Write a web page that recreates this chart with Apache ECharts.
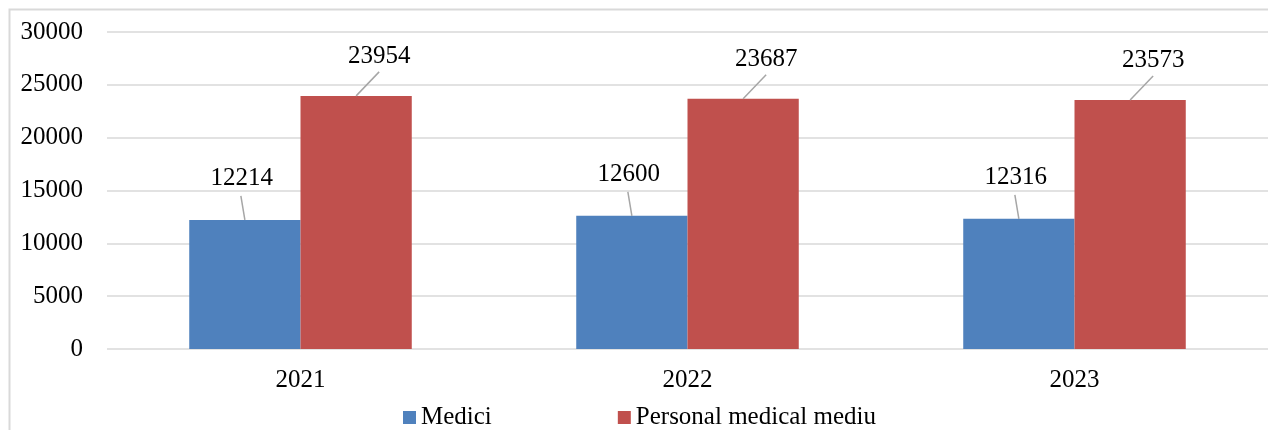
<!DOCTYPE html>
<html>
<head>
<meta charset="utf-8">
<script src="https://cdn.jsdelivr.net/npm/echarts@6/dist/echarts.min.js"></script>
<style>
  html, body { margin: 0; padding: 0; background: #fff; }
  #chart { width: 1268px; height: 430px; }
</style>
</head>
<body>
<div id="chart"></div>
<script>
// date
const years = ['2021', '2022', '2023'];
const medici = [12214, 12600, 12316];
const personalMediu = [23954, 23687, 23573];
const seriesNames = ['Medici', 'Personal medical mediu'];

const font = 'Liberation Serif, Times New Roman, serif';
const catGap = 0.425;

const chart = echarts.init(document.getElementById('chart'));

const labelCommon = {
    show: true,
    position: 'top',
    color: '#000',
    fontFamily: font,
    fontSize: 25
};

// linie de legatura de la varful barei spre eticheta
// side: -1 bara din stanga, +1 bara din dreapta
function leaderLine(side, dx) {
    return function (params, api) {
        const top = api.coord([api.value(0), api.value(1)]);
        const bandW = api.size([1, 0])[0];
        const barW = bandW * (1 - catGap) / 2;
        const x0 = top[0] + side * barW / 2;
        return {
            type: 'line',
            silent: true,
            shape: { x1: x0, y1: top[1], x2: x0 + dx, y2: top[1] - 24 },
            style: { stroke: '#a6a6a6', lineWidth: 1.5 }
        };
    };
}

const option = {
    backgroundColor: '#fff',
    animation: false,
    graphic: [{
        type: 'rect',
        shape: { x: 9.5, y: 9.5, width: 1400, height: 600 },
        style: { fill: 'none', stroke: '#d9d9d9', lineWidth: 2 }
    }],
    grid: {
        left: 107,
        top: 32,
        width: 1170,
        height: 317
    },
    legend: {
        data: seriesNames,
        left: 398,
        top: 400,
        icon: 'rect',
        itemWidth: 13,
        itemHeight: 13,
        itemGap: 126,
        textStyle: { color: '#000', fontFamily: font, fontSize: 25 }
    },
    xAxis: {
        type: 'category',
        data: years,
        axisLine: { show: false },
        axisTick: { show: false },
        axisLabel: { color: '#000', fontFamily: font, fontSize: 25, margin: 19 }
    },
    yAxis: {
        type: 'value',
        min: 0,
        max: 30000,
        interval: 5000,
        axisLine: { show: false },
        axisTick: { show: false },
        axisLabel: {
            color: '#000', fontFamily: font, fontSize: 25, margin: 24,
            formatter: value => String(value)
        },
        splitLine: { lineStyle: { color: '#d9d9d9', width: 1.5 } }
    },
    series: [{
        name: seriesNames[0],
        type: 'bar',
        data: medici,
        barGap: '0%',
        barCategoryGap: (catGap * 100) + '%',
        itemStyle: { color: '#4f81bd' },
        label: labelCommon,
        labelLayout: { dx: -3, dy: -24 }
    }, {
        name: seriesNames[1],
        type: 'bar',
        data: personalMediu,
        barGap: '0%',
        barCategoryGap: (catGap * 100) + '%',
        itemStyle: { color: '#c0504d' },
        label: labelCommon,
        labelLayout: { dx: 23, dy: -22 }
    }, {
        type: 'custom',
        silent: true,
        z: 3,
        data: medici.map((v, i) => [i, v]),
        renderItem: leaderLine(-1, -4)
    }, {
        type: 'custom',
        silent: true,
        z: 3,
        data: personalMediu.map((v, i) => [i, v]),
        renderItem: leaderLine(1, 23)
    }]
};

chart.setOption(option);
</script>
</body>
</html>
